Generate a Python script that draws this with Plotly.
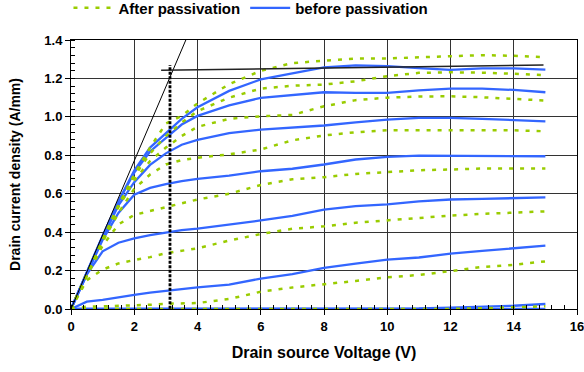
import plotly.graph_objects as go

# ---- data ----
vds = [0, 0.5, 1, 1.5, 2, 2.5, 3, 3.5, 4, 5, 6, 7, 8, 9, 10, 11, 12, 13, 14, 15]

before_1 = [0, 0.19, 0.38, 0.56, 0.72, 0.84, 0.915, 0.99, 1.05, 1.135, 1.195, 1.225, 1.257, 1.268, 1.264, 1.254, 1.245, 1.252, 1.252, 1.246]
before_2 = [0, 0.19, 0.38, 0.56, 0.71, 0.82, 0.89, 0.96, 1.005, 1.06, 1.099, 1.115, 1.128, 1.125, 1.125, 1.138, 1.147, 1.147, 1.14, 1.128]
before_3 = [0, 0.19, 0.37, 0.54, 0.66, 0.75, 0.81, 0.855, 0.88, 0.915, 0.934, 0.946, 0.955, 0.971, 0.986, 0.995, 0.995, 0.99, 0.982, 0.977]
before_4 = [0, 0.18, 0.36, 0.50, 0.595, 0.63, 0.65, 0.665, 0.677, 0.694, 0.717, 0.73, 0.752, 0.778, 0.792, 0.798, 0.797, 0.797, 0.797, 0.795]
before_5 = [0, 0.18, 0.30, 0.345, 0.368, 0.385, 0.398, 0.41, 0.418, 0.439, 0.461, 0.485, 0.517, 0.535, 0.545, 0.56, 0.57, 0.573, 0.577, 0.581]
before_6 = [0, 0.038, 0.048, 0.062, 0.073, 0.085, 0.095, 0.104, 0.112, 0.127, 0.158, 0.182, 0.214, 0.236, 0.257, 0.268, 0.288, 0.302, 0.316, 0.33]
before_7 = [0, 0, 0, 0, 0, 0, 0, 0, 0, 0, 0, 0, 0, 0, 0, 0.003, 0.007, 0.011, 0.017, 0.026]
before_8 = [0] * 20

after_1 = [0, 0.18, 0.36, 0.54, 0.70, 0.84, 0.965, 1.005, 1.07, 1.17, 1.24, 1.28, 1.292, 1.304, 1.304, 1.31, 1.318, 1.321, 1.318, 1.31]
after_2 = [0, 0.18, 0.36, 0.54, 0.69, 0.81, 0.90, 0.97, 1.03, 1.10, 1.147, 1.162, 1.168, 1.185, 1.212, 1.229, 1.232, 1.23, 1.224, 1.217]
after_3 = [0, 0.18, 0.36, 0.53, 0.67, 0.77, 0.84, 0.90, 0.948, 0.99, 1.003, 1.01, 1.055, 1.087, 1.1, 1.106, 1.107, 1.102, 1.093, 1.085]
after_4 = [0, 0.18, 0.35, 0.50, 0.625, 0.70, 0.752, 0.775, 0.787, 0.805, 0.83, 0.878, 0.903, 0.92, 0.93, 0.93, 0.93, 0.93, 0.93, 0.925]
after_5 = [0, 0.17, 0.33, 0.44, 0.49, 0.51, 0.53, 0.55, 0.57, 0.60, 0.645, 0.675, 0.686, 0.703, 0.714, 0.722, 0.726, 0.731, 0.731, 0.731]
after_6 = [0, 0.15, 0.205, 0.237, 0.255, 0.27, 0.29, 0.305, 0.316, 0.356, 0.39, 0.418, 0.43, 0.449, 0.462, 0.474, 0.486, 0.495, 0.503, 0.508]
after_7 = [0, 0.012, 0.014, 0.016, 0.019, 0.022, 0.027, 0.029, 0.031, 0.052, 0.09, 0.112, 0.128, 0.146, 0.165, 0.177, 0.197, 0.219, 0.23, 0.248]
after_8 = [0, 0, 0, 0, 0, 0, 0, 0, 0, 0, 0, 0, 0, 0, 0, 0, 0, 0.004, 0.009, 0.014]

before_curves = [before_1, before_2, before_3, before_4, before_5, before_6, before_7, before_8]
after_curves = [after_1, after_2, after_3, after_4, after_5, after_6, after_7, after_8]

# construction lines
tangent_x = [0, 3.67]
tangent_y = [0, 1.415]
sat_x = [2.85, 14.94]
sat_y = [1.243, 1.27]
knee_x = [3.13, 3.13]
knee_y = [-0.045, 1.27]

series_names = ["After passivation", "before passivation"]
x_ticks = [0, 2, 4, 6, 8, 10, 12, 14, 16]
y_ticks = [0.0, 0.2, 0.4, 0.6, 0.8, 1.0, 1.2, 1.4]

BLUE = "#3366FF"
GREEN = "#99CC00"
FONT = "Liberation Sans, Arial, sans-serif"

fig = go.Figure()

for i, yv in enumerate(before_curves):
    fig.add_trace(go.Scatter(
        x=vds, y=yv, mode="lines", name=series_names[1],
        line=dict(color=BLUE, width=2.3),
        legendgroup="b", showlegend=(i == 0), legendrank=2,
    ))

for i, yv in enumerate(after_curves):
    fig.add_trace(go.Scatter(
        x=vds, y=yv, mode="lines", name=series_names[0],
        line=dict(color=GREEN, width=2.5, dash="4px,7px"),
        legendgroup="a", showlegend=(i == 0), legendrank=1,
    ))

fig.add_trace(go.Scatter(x=tangent_x, y=tangent_y, mode="lines",
                         line=dict(color="black", width=1), showlegend=False, cliponaxis=False))
fig.add_trace(go.Scatter(x=sat_x, y=sat_y, mode="lines",
                         line=dict(color="#222222", width=1.5), showlegend=False))
fig.add_trace(go.Scatter(x=knee_x, y=knee_y, mode="lines",
                         line=dict(color="black", width=2.8, dash="3px,1.5px"),
                         showlegend=False, cliponaxis=False))

axis_common = dict(
    showline=True, linecolor="black", linewidth=1, mirror=True,
    showgrid=True, gridcolor="#333333", gridwidth=1,
    ticks="outside", ticklen=5, tickcolor="black",
    tickfont=dict(family=FONT, size=13, color="black", weight="bold"),
    zeroline=False, automargin=False, ticklabeloverflow="allow",
)

fig.update_xaxes(
    range=[0, 16], tickvals=x_ticks,
    minor=dict(dtick=0.4, ticks="inside", ticklen=4, tickcolor="black", showgrid=False),
    title=dict(text="Drain source Voltage (V)", standoff=14,
               font=dict(family=FONT, size=16, color="black", weight="bold")),
    **axis_common,
)
fig.update_yaxes(
    range=[0, 1.4], tickvals=y_ticks, tickformat=".1f",
    minor=dict(dtick=0.04, ticks="inside", ticklen=4, tickcolor="black", showgrid=False),
    title=dict(text="Drain current density (A/mm)", standoff=20,
               font=dict(family=FONT, size=14, color="black", weight="bold")),
    **axis_common,
)

fig.update_layout(
    width=584, height=372, autosize=False,
    margin=dict(l=71, r=7, t=40, b=63, autoexpand=False),
    plot_bgcolor="white", paper_bgcolor="white",
    font=dict(family=FONT, size=14, color="black"),
    legend=dict(orientation="h", x=-0.005, xanchor="left", y=1.18, yanchor="top",
                font=dict(family=FONT, size=15, color="black", weight="bold"),
                bgcolor="rgba(0,0,0,0)", traceorder="normal", itemwidth=40),
    showlegend=True,
)

post = (
    "document.body.style.margin='0';"
    "document.body.style.padding='0';"
    "document.body.style.overflow='hidden';"
    "document.documentElement.style.overflow='hidden';"
    "var gd=document.getElementById('{plot_id}');"
    "Plotly.relayout(gd,{width:584,height:372});"
)

fig.write_html("out.html", config={"responsive": False, "displayModeBar": False}, post_script=post)
